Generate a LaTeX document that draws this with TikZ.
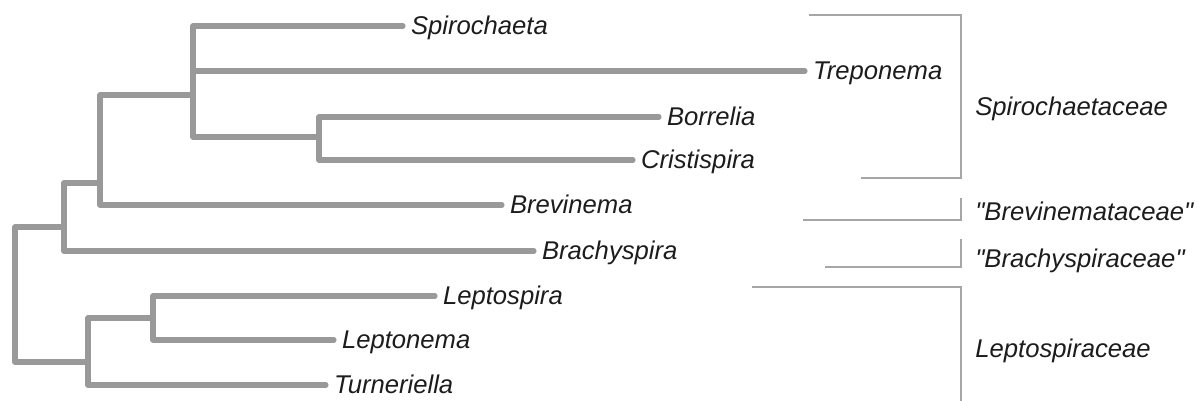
\documentclass[tikz,border=0pt]{standalone}
\usepackage{fontspec}
\setmainfont{Liberation Sans}
\usetikzlibrary{positioning}
\definecolor{BranchGray}{HTML}{999999}
\definecolor{BracketGray}{HTML}{A6A6A6}
\definecolor{LabelInk}{HTML}{1C1C1C}
\tikzset{
  branch/.style={draw=BranchGray,line width=2.9pt,line cap=round,line join=round},
  bracket/.style={draw=BracketGray,line width=1pt},
  taxon/.style={anchor=west,inner xsep=0.16cm,inner ysep=0pt,outer sep=0pt,text height=1em,text depth=0pt,font=\fontsize{14.6}{17}\selectfont\itshape,text=LabelInk},
  family/.style={anchor=base west,inner sep=0pt,font=\fontsize{14.6}{17}\selectfont\itshape,text=LabelInk}
}

\begin{document}
\begin{tikzpicture}[x=0.02cm,y=-0.02cm]
\useasboundingbox (0,0) rectangle (1199,400);
% inner nodes of the tree
\coordinate (root) at (15,227);
\coordinate (nA) at (64,227);
\coordinate (nB) at (100,183);
\coordinate (nC) at (193,95);
\coordinate (nD) at (319,137);
\coordinate (nE) at (88,362);
\coordinate (nF) at (153,318);
% leaves
\foreach \name/\x/\y/\txt in {spiro/403/26/Spirochaeta, trepo/805/71/Treponema,
  borre/659/117/Borrelia, crist/633/160/Cristispira, brevi/502/205/Brevinema,
  brach/534/251/Brachyspira, lspira/435/296/Leptospira, lnema/334/340/Leptonema,
  turne/326/385/Turneriella}
  \node[taxon] (\name) at (\x,\y) {\txt};
% branches
\draw[branch] (root) |- (nA);
\draw[branch] (root) |- (nE);
\draw[branch] (nA) |- (nB);
\draw[branch] (nA) |- (brach.west);
\draw[branch] (nB) |- (nC);
\draw[branch] (nB) |- (brevi.west);
\draw[branch] (nC) |- (spiro.west);
\draw[branch] (nC) |- (trepo.west);
\draw[branch] (nC) |- (nD);
\draw[branch] (nD) |- (borre.west);
\draw[branch] (nD) |- (crist.west);
\draw[branch] (nE) |- (nF);
\draw[branch] (nE) |- (turne.west);
\draw[branch] (nF) |- (lspira.west);
\draw[branch] (nF) |- (lnema.west);
% families
\draw[bracket] (809,15) -| (961,178) -- (861,178);
\draw[bracket] (961,198) |- (803,220);
\draw[bracket] (961,239) |- (825,267);
\draw[bracket] (752,287) -| (961,402);
\node[family] (fspiro) at (975,115) {Spirochaetaceae};
\node[family] (fbrevi) at (975,220) {\textquotedbl Brevinemataceae\textquotedbl};
\node[family] (fbrach) at (975,267) {\textquotedbl Brachyspiraceae\textquotedbl};
\node[family] (flepto) at (975,357) {Leptospiraceae};
\end{tikzpicture}
\end{document}
